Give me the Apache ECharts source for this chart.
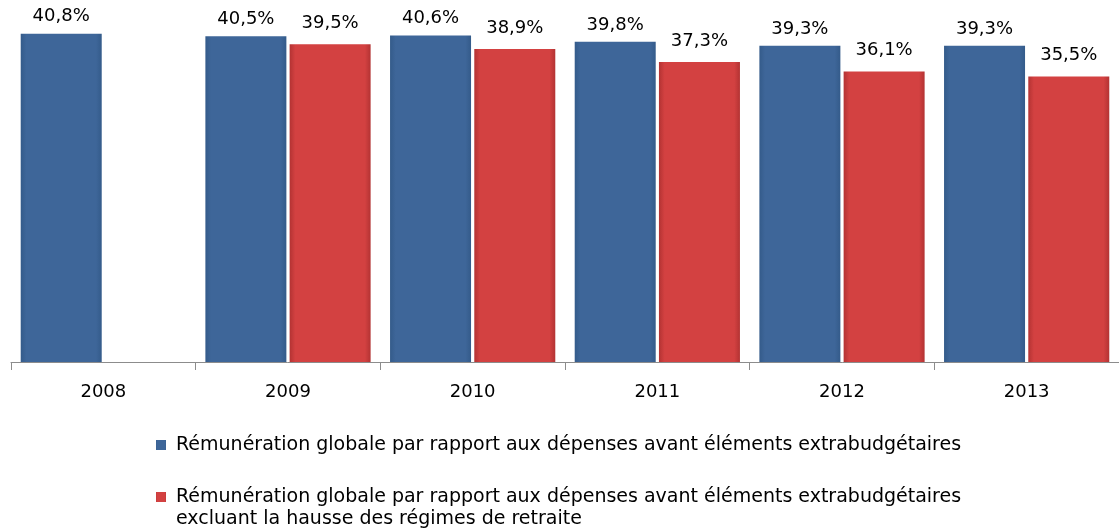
<!DOCTYPE html>
<html><head><meta charset="utf-8">
<script src="https://cdn.jsdelivr.net/npm/echarts@6/dist/echarts.min.js"></script>
<style>html,body{margin:0;padding:0;background:#fff}#c{width:1119px;height:531px}</style>
</head><body><div id="c"></div>
<script>
const categories = ['2008','2009','2010','2011','2012','2013'];
const seriesNames = [
  'Rémunération globale par rapport aux dépenses avant éléments extrabudgétaires',
  'Rémunération globale par rapport aux dépenses avant éléments extrabudgétaires excluant la hausse des régimes de retraite'
];
const legendLine1 = 'Rémunération globale par rapport aux dépenses avant éléments extrabudgétaires';
const legendLine2 = 'excluant la hausse des régimes de retraite';
const blueValues = [40.8, 40.5, 40.6, 39.8, 39.3, 39.3];
const redValues = [null, 39.5, 38.9, 37.3, 36.1, 35.5];

const font = 'DejaVu Sans';
function grad(edge, mid){
  return new echarts.graphic.LinearGradient(0,0,1,0,[
    {offset:0,color:edge},{offset:0.07,color:mid},{offset:0.93,color:mid},{offset:1,color:edge}]);
}
const chart = echarts.init(document.getElementById('c'));
const fmt = p => p.value == null ? '' : p.value.toFixed(1).replace('.', ',') + '%';
const legendText = {fontFamily:font,fontSize:19,color:'#000',lineHeight:22,padding:[0,0,0,5]};
chart.setOption({
  animation:false,
  grid:{left:11,right:-2,top:0,bottom:169,containLabel:false},
  xAxis:{type:'category',data:categories,
    axisLine:{lineStyle:{color:'#8c8c8c',width:1}},
    axisTick:{show:true,length:8,lineStyle:{color:'#8c8c8c'}},
    axisLabel:{color:'#000',fontFamily:font,fontSize:18,margin:21}},
  yAxis:{type:'value',min:0,max:45,show:false,splitLine:{show:false}},
  legend:[
    {left:156,top:434,padding:0,itemWidth:10,itemHeight:10,icon:'rect',
      textStyle:legendText,data:[seriesNames[0]],formatter:()=>legendLine1,selectedMode:false},
    {left:156,top:486,padding:0,itemWidth:10,itemHeight:10,icon:'rect',
      textStyle:legendText,data:[seriesNames[1]],formatter:()=>legendLine1,selectedMode:false}
  ],
  graphic:[{type:'text',left:176,top:508,style:{text:legendLine2,font:'19px "DejaVu Sans"',fill:'#000',lineHeight:22}}],
  series:[
    {name:seriesNames[0],type:'bar',data:blueValues,barWidth:81,barGap:'4%',
      itemStyle:{color:grad('#345b8a','#3e6699')},
      label:{show:true,position:'top',distance:8,fontFamily:font,fontSize:18,color:'#000',formatter:fmt}},
    {name:seriesNames[1],type:'bar',data:redValues,barWidth:81,
      itemStyle:{color:grad('#b33333','#d34141')},
      label:{show:true,position:'top',distance:12,fontFamily:font,fontSize:18,color:'#000',formatter:fmt}}
  ]
});
</script></body></html>
